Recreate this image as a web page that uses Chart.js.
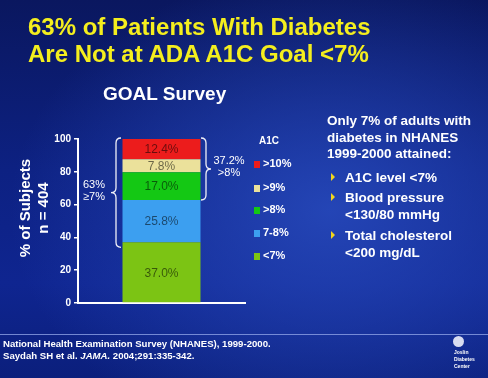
<!DOCTYPE html>
<html>
<head>
<meta charset="utf-8">
<script src="https://cdn.jsdelivr.net/npm/chart.js@4.4.0/dist/chart.umd.min.js"></script>
<style>
  html, body { margin: 0; padding: 0; }
  #slide {
    position: relative; width: 488px; height: 378px; overflow: hidden;
    font-family: "Liberation Sans", Arial, sans-serif; color: #fff;
    background:
      radial-gradient(ellipse 320px 240px at 330px 210px, rgba(40,75,190,0.85), rgba(40,75,190,0) 100%),
      linear-gradient(180deg, #0a175f 0%, #0d2182 45%, #0f2590 75%, #0b1f7c 100%);
  }
  #chart { position: absolute; left: 0; top: 0; }
  .abs { position: absolute; white-space: nowrap; }
  #title { left: 28px; top: 13px; font-size: 24px; line-height: 27px; font-weight: bold; color: #f4ee1e; }
  #sub { left: 103px; top: 83px; font-size: 19px; line-height: 22px; font-weight: bold; }
  #ytitle { left: -46px; top: 190px; width: 160px; height: 36px; font-size: 15px; line-height: 18px;
            font-weight: bold; text-align: center; transform: rotate(-90deg); }
  #legendTitle { left: 259px; top: 135px; font-size: 10px; font-weight: bold; }
  .lg { position: absolute; left: 254px; font-size: 11px; line-height: 13px; font-weight: bold; white-space: nowrap; }
  .lg i { display: inline-block; width: 6px; height: 7px; margin-right: 3px; vertical-align: -0.5px; }
  .panel { position: absolute; left: 327px; font-size: 13.5px; line-height: 16.5px; font-weight: bold; white-space: nowrap; }
  .item { position: absolute; left: 345px; font-size: 13.5px; line-height: 17px; font-weight: bold; white-space: nowrap; }
  .tri { position: absolute; left: 331px; width: 0; height: 0; border-top: 4px solid transparent;
         border-bottom: 4px solid transparent; border-left: 4px solid #f2d61c; }
  #rule { left: 0; top: 334px; width: 488px; height: 1px; background: rgba(150,170,235,0.75); }
  #foot { left: 3px; top: 338px; font-size: 9.6px; line-height: 12px; font-weight: bold; }
  #logo { left: 453px; top: 336px; width: 11px; height: 11px; border-radius: 50%; background: #d8dcf0; }
  #logoText { left: 454px; top: 349px; font-size: 5px; line-height: 7px; font-weight: bold; }
</style>
</head>
<body>
<div id="slide">
  <canvas id="chart" width="488" height="378"></canvas>
  <div id="title" class="abs">63% of Patients With Diabetes<br>Are Not at ADA A1C Goal &lt;7%</div>
  <div id="sub" class="abs">GOAL Survey</div>
  <div id="ytitle" class="abs">% of Subjects<br>n = 404</div>
  <div id="legendTitle" class="abs">A1C</div>
  <div id="legend"></div>
  <div class="panel" style="top:113px">Only 7% of adults with<br>diabetes in NHANES<br>1999-2000 attained:</div>
  <div class="tri" style="top:173px"></div>
  <div class="item" style="top:169px">A1C level &lt;7%</div>
  <div class="tri" style="top:193px"></div>
  <div class="item" style="top:189px">Blood pressure<br>&lt;130/80 mmHg</div>
  <div class="tri" style="top:231px"></div>
  <div class="item" style="top:227px">Total cholesterol<br>&lt;200 mg/dL</div>
  <div id="rule" class="abs"></div>
  <div id="foot" class="abs">National Health Examination Survey (NHANES), 1999-2000.<br>Saydah SH et al. <i>JAMA.</i> 2004;291:335-342.</div>
  <div id="logo" class="abs"></div>
  <div id="logoText" class="abs">Joslin<br>Diabetes<br>Center</div>
</div>
<script>
// data, bottom segment first
var categories = ['GOAL Survey'];
var a1cGroups = ['<7%', '7-8%', '>8%', '>9%', '>10%'];
var shares = [37.0, 25.8, 17.0, 7.8, 12.4];
var barColors = ['#7cc414', '#3c9ff0', '#14c814', '#ebe19b', '#ec1c1c'];
var yMax = 100;
var yStep = 20;
var braceLabels = [['63%', '\u22657%'], ['37.2%', '>8%']];

// cumulative tops of each segment
var tops = [];
shares.reduce(function (acc, v) { tops.push(acc + v); return acc + v; }, 0);

// html legend, top group first
var legendBox = document.getElementById('legend');
var legendY = [157, 181, 203, 226, 249];
a1cGroups.slice().reverse().forEach(function (g, i) {
    var c = barColors[a1cGroups.length - 1 - i];
    var d = document.createElement('div');
    d.className = 'lg';
    d.style.top = legendY[i] + 'px';
    d.innerHTML = '<i style="background:' + c + '"></i>' + g.replace('<', '&lt;');
    legendBox.appendChild(d);
});

function drawBrace(ctx, x, y1, y2, dir) {
    var r = 5, ym = (y1 + y2) / 2;
    ctx.beginPath();
    ctx.moveTo(x - dir * r, y1);
    ctx.quadraticCurveTo(x, y1, x, y1 + r);
    ctx.lineTo(x, ym - r);
    ctx.quadraticCurveTo(x, ym, x + dir * r, ym);
    ctx.quadraticCurveTo(x, ym, x, ym + r);
    ctx.lineTo(x, y2 - r);
    ctx.quadraticCurveTo(x, y2, x - dir * r, y2);
    ctx.stroke();
}

var annotations = {
    id: 'annotations',
    afterDatasetsDraw: function (chart) {
        var ctx = chart.ctx;
        var y = chart.scales.y;
        ctx.save();
        // value labels inside the bar
        ctx.font = '12px "Liberation Sans", Arial, sans-serif';
        ctx.textAlign = 'center';
        ctx.textBaseline = 'middle';
        ctx.fillStyle = 'rgba(0,0,0,0.55)';
        chart.data.datasets.forEach(function (ds, i) {
            var bar = chart.getDatasetMeta(i).data[0];
            ctx.fillText(shares[i].toFixed(1) + '%', bar.x, (bar.y + bar.base) / 2 + 1);
        });
        // braces
        ctx.strokeStyle = '#f0f0f8';
        ctx.lineWidth = 1.3;
        var top = y.getPixelForValue(yMax) - 1;
        var leftLow = y.getPixelForValue(tops[0]) + 5;
        var rightLow = y.getPixelForValue(tops[1]);
        drawBrace(ctx, 116, top, leftLow, -1);
        drawBrace(ctx, 206, top, rightLow, 1);
        ctx.fillStyle = '#fff';
        ctx.font = '11px "Liberation Sans", Arial, sans-serif';
        var lm = (top + leftLow) / 2;
        ctx.fillText(braceLabels[0][0], 94, lm - 8);
        ctx.fillText(braceLabels[0][1], 94, lm + 4);
        var rm = (top + rightLow) / 2;
        ctx.fillText(braceLabels[1][0], 229, rm - 8);
        ctx.fillText(braceLabels[1][1], 229, rm + 4);
        ctx.restore();
    }
};

var chartCtx = document.getElementById('chart').getContext('2d');
window.goalChart = new Chart(chartCtx, {
    type: 'bar',
    data: {
        labels: categories,
        datasets: a1cGroups.map(function (g, i) {
            return {
                label: g,
                data: [shares[i]],
                backgroundColor: barColors[i],
                borderWidth: 0,
                barPercentage: 0.467,
                categoryPercentage: 1
            };
        })
    },
    options: {
        responsive: false,
        animation: false,
        layout: { padding: { left: 0, top: 139, right: 243, bottom: 75 } },
        plugins: { legend: { display: false }, tooltip: { enabled: false } },
        scales: {
            x: {
                stacked: true,
                grid: { display: false },
                ticks: { display: false },
                border: { display: true, color: '#fff', width: 2 },
                afterFit: function (s) { s.height = 0; }
            },
            y: {
                stacked: true,
                min: 0,
                max: yMax,
                ticks: {
                    stepSize: yStep,
                    color: '#fff',
                    padding: 3,
                    font: { family: '"Liberation Sans", Arial, sans-serif', size: 10, weight: 'bold' }
                },
                grid: { drawOnChartArea: false, drawTicks: true, tickLength: 4, color: '#fff', lineWidth: 1.5 },
                border: { color: '#fff', width: 2 },
                afterFit: function (s) { s.width = 78; }
            }
        }
    },
    plugins: [annotations]
});
</script>
</body>
</html>
